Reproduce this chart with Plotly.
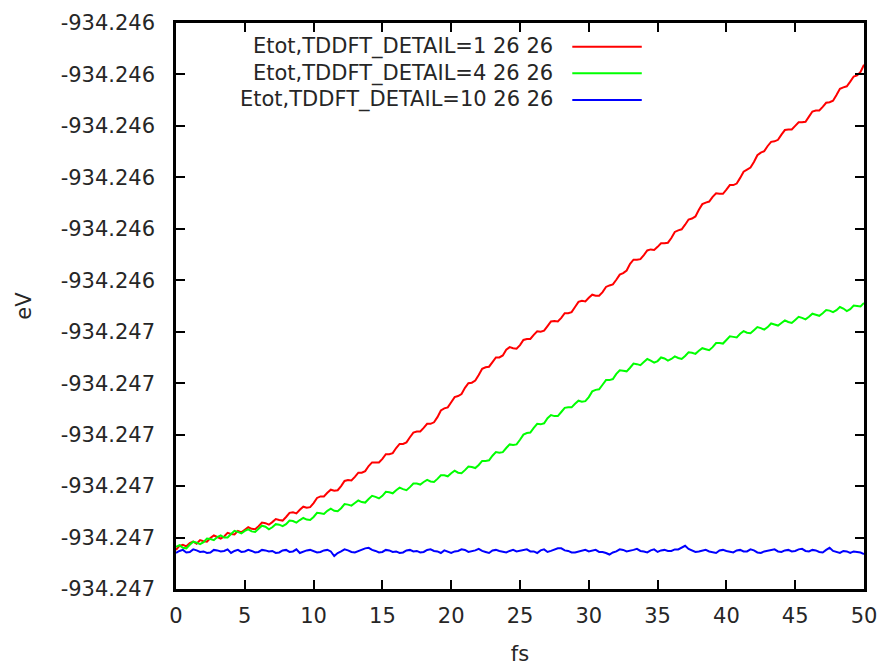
import numpy as np
import plotly.graph_objects as go

# Time step (fs) between the sampled readings
dt_fs = 0.25

# Reference energy (eV) = bottom of the y axis; series stored as Etot - E_REF in micro-eV
E_REF = -934.2471

etot_detail1_ueV = [
    76, 84, 86, 83, 89, 92, 88, 95, 93, 92, 99, 104, 101, 98, 102, 109, 107, 106, 113, 110,
    115, 120, 117, 116, 122, 129, 128, 125, 130, 136, 134, 133, 140, 148, 149, 147, 154, 160, 158, 159,
    167, 177, 180, 180, 187, 193, 191, 192, 200, 210, 212, 211, 218, 226, 226, 229, 239, 246, 246, 246,
    253, 262, 262, 264, 274, 282, 282, 285, 295, 304, 306, 306, 313, 321, 321, 324, 334, 347, 351, 353,
    363, 373, 375, 379, 391, 400, 401, 405, 416, 428, 431, 432, 441, 450, 450, 454, 465, 470, 468, 467,
    474, 484, 486, 486, 494, 501, 500, 502, 511, 520, 521, 520, 527, 536, 536, 538, 548, 558, 560, 559,
    566, 572, 570, 570, 577, 587, 590, 592, 601, 611, 614, 619, 632, 640, 640, 641, 649, 658, 660, 659,
    665, 672, 672, 673, 682, 694, 697, 699, 708, 718, 720, 724, 737, 748, 751, 753, 762, 769, 768, 768,
    776, 785, 785, 788, 799, 811, 815, 819, 830, 843, 848, 851, 861, 869, 870, 873, 883, 892, 893, 893,
    900, 907, 907, 908, 918, 928, 930, 930, 937, 945, 946, 949, 960, 972, 975, 977, 986, 996, 998, 1005,
    1019,
]

etot_detail4_ueV = [
    82, 85, 80, 79, 86, 92, 90, 87, 91, 98, 97, 95, 101, 104, 100, 100, 107, 113, 111, 108,
    113, 116, 112, 111, 117, 123, 121, 116, 120, 126, 125, 122, 126, 133, 132, 129, 134, 138, 135, 134,
    140, 148, 147, 146, 152, 156, 152, 151, 157, 165, 164, 162, 167, 172, 169, 168, 175, 181, 179, 176,
    181, 189, 188, 186, 192, 197, 194, 192, 198, 205, 205, 203, 208, 212, 209, 208, 214, 221, 221, 219,
    225, 230, 226, 225, 231, 238, 237, 235, 241, 249, 249, 250, 259, 266, 265, 266, 274, 281, 280, 281,
    290, 300, 303, 304, 313, 321, 320, 322, 332, 338, 336, 336, 344, 352, 353, 353, 360, 366, 364, 365,
    373, 384, 387, 388, 397, 406, 406, 408, 418, 425, 424, 423, 430, 438, 437, 435, 441, 447, 444, 440,
    443, 450, 448, 444, 447, 452, 449, 447, 453, 460, 459, 457, 463, 468, 466, 464, 470, 478, 478, 477,
    484, 491, 490, 489, 496, 501, 498, 497, 503, 509, 507, 504, 509, 516, 514, 512, 517, 522, 519, 517,
    523, 529, 527, 524, 529, 535, 533, 531, 536, 542, 541, 538, 542, 548, 545, 540, 544, 551, 550, 549,
    556,
]

etot_detail10_ueV = [
    70, 74, 76, 71, 72, 77, 75, 72, 73, 70, 71, 76, 75, 73, 74, 77, 70, 74, 76, 72,
    73, 76, 74, 71, 72, 76, 75, 73, 74, 70, 71, 75, 76, 72, 73, 77, 70, 73, 75, 76,
    74, 71, 72, 75, 76, 73, 64, 70, 73, 77, 75, 72, 71, 74, 77, 79, 80, 76, 74, 71,
    72, 76, 75, 72, 73, 70, 71, 75, 76, 73, 74, 71, 72, 76, 77, 74, 73, 70, 75, 73,
    70, 73, 74, 77, 76, 72, 73, 75, 78, 74, 72, 70, 75, 76, 74, 72, 71, 74, 76, 73,
    74, 76, 77, 73, 73, 70, 75, 77, 72, 74, 76, 79, 79, 75, 74, 71, 71, 73, 75, 76,
    73, 75, 76, 72, 72, 70, 67, 71, 73, 77, 76, 73, 74, 76, 78, 74, 73, 71, 75, 77,
    72, 75, 76, 74, 74, 77, 77, 80, 84, 78, 75, 72, 73, 74, 76, 73, 72, 70, 75, 76,
    74, 73, 71, 75, 76, 73, 73, 77, 75, 71, 70, 73, 74, 76, 77, 73, 72, 75, 76, 73,
    74, 77, 78, 74, 73, 76, 75, 72, 71, 76, 80, 74, 72, 70, 74, 73, 70, 73, 72, 71,
    68,
]

series_names = [
    "Etot,TDDFT_DETAIL=1 26 26",
    "Etot,TDDFT_DETAIL=4 26 26",
    "Etot,TDDFT_DETAIL=10 26 26",
]
series_colors = ["#ff0000", "#00ff00", "#0000ff"]

y_tick_offsets_ueV = [0, 100, 200, 300, 400, 500, 600, 700, 800, 900, 1000, 1100]
y_tick_labels = ["-934.247"] * 6 + ["-934.246"] * 6
x_tick_vals = [0, 5, 10, 15, 20, 25, 30, 35, 40, 45, 50]

FONT = "DejaVu Sans"
TXT = "#262626"
FS = 21

fig = go.Figure()
for name, color, vals in zip(series_names, series_colors,
                             [etot_detail1_ueV, etot_detail4_ueV, etot_detail10_ueV]):
    v = np.array(vals, dtype=float)
    t = np.arange(len(v)) * dt_fs
    fig.add_trace(go.Scatter(x=t, y=E_REF + v * 1e-6, mode="lines", name=name,
                             line=dict(color=color, width=2), showlegend=False))

# gnuplot-style key: text right-aligned, followed by a line sample
key_y = [0.958, 0.911, 0.864]
for name, color, ky in zip(series_names, series_colors, key_y):
    fig.add_annotation(xref="paper", yref="paper", x=0.551, y=ky, text=name,
                       showarrow=False, xanchor="right", yanchor="middle",
                       font=dict(family=FONT, size=FS, color=TXT))
    fig.add_shape(type="line", xref="paper", yref="paper", x0=0.576, x1=0.677,
                  y0=ky, y1=ky, line=dict(color=color, width=2))

axis_common = dict(showline=True, linecolor="black", linewidth=2.5, mirror="ticks",
                   ticks="inside", ticklen=9, tickwidth=2, tickcolor="black",
                   showgrid=False, zeroline=False, automargin=False,
                   tickfont=dict(family=FONT, size=FS, color=TXT))

fig.update_xaxes(range=[0, 50], tickvals=x_tick_vals, ticklabelstandoff=6,
                 title=dict(text="fs", font=dict(family=FONT, size=FS, color=TXT), standoff=31),
                 **axis_common)
fig.update_yaxes(range=[E_REF, E_REF + 1100e-6],
                 tickvals=[E_REF + o * 1e-6 for o in y_tick_offsets_ueV],
                 ticktext=y_tick_labels, ticklabelstandoff=14,
                 title=dict(text="eV", font=dict(family=FONT, size=FS, color=TXT), standoff=24),
                 **axis_common)

# the page adds an 8px body margin, so the figure is 8px smaller and shifted margins
fig.update_layout(width=877, height=658, paper_bgcolor="white", plot_bgcolor="white",
                  margin=dict(l=168, r=21, t=15, b=77), showlegend=False)

fig.write_html("out.html")
